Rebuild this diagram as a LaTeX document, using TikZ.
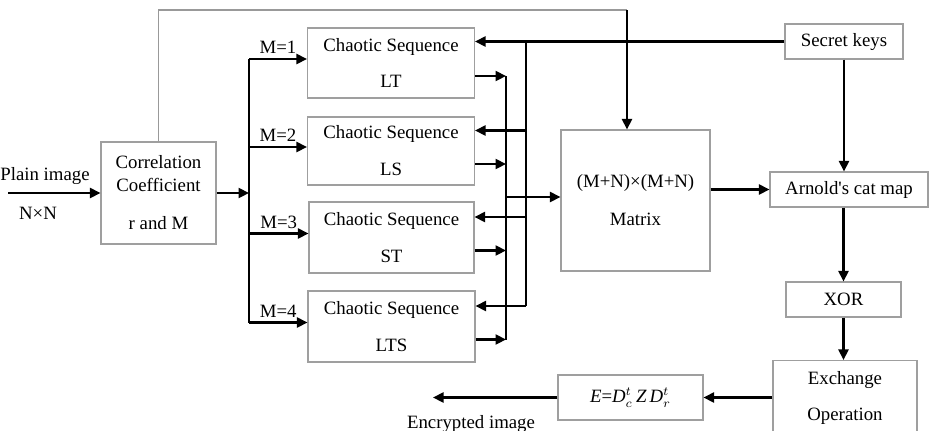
\documentclass[tikz,border=0pt]{standalone}
\usepackage{fontspec}
\setmainfont{Liberation Serif}
\usetikzlibrary{arrows.meta,positioning}

\begin{document}
\begin{tikzpicture}[x=0.2mm,y=-0.2mm,font=\fontsize{10.7}{12.8}\selectfont,
  >={Triangle[length=2.1mm,width=2mm]},
  caja/.style={draw=gray!75,line width=0.6pt,inner sep=0pt,align=center},
  flecha/.style={->,line width=1.3pt},
  bus/.style={line width=1.7pt},
  guia/.style={draw=gray!80,line width=0.7pt}]

\useasboundingbox (0,0) rectangle (929,430);

% Bloques
\node[caja,minimum width=2.3cm,minimum height=2.04cm] (corr) at (158.5,193)
    {Correlation\\[0.3pt]Coefficient\\[8.8pt]r and M};

\node[caja,minimum width=3.34cm,minimum height=1.4cm] (lt)  at (391,63)
    {Chaotic Sequence\\[8.2pt]LT};
\node[caja,minimum width=3.34cm,minimum height=1.36cm] (ls)  at (391,151)
    {Chaotic Sequence\\[8.2pt]LS};
\node[caja,minimum width=3.3cm,minimum height=1.42cm] (st)  at (391.5,237.5)
    {Chaotic Sequence\\[8.2pt]ST};
\node[caja,minimum width=3.34cm,minimum height=1.42cm] (lts) at (391.5,326.5)
    {Chaotic Sequence\\[8.2pt]LTS};

\node[caja,minimum width=2.98cm,minimum height=2.82cm] (mat) at (635.5,200.5)
    {(M+N)×(M+N)\\[8.8pt]Matrix};

\node[caja,minimum width=2.36cm,minimum height=0.7cm] (keys) at (844,41.5) {Secret keys};
\node[caja,minimum width=3.16cm,minimum height=0.7cm] (cat)  at (849,189.5)
    {Arnold\textquotesingle s cat map};
\node[caja,minimum width=2.3cm,minimum height=0.7cm]  (xor)  at (843.5,299.5) {XOR};
\node[caja,minimum width=2.88cm,minimum height=1.5cm] (exch) at (845,398)
    {Exchange\\[8.2pt]Operation};
\node[caja,minimum width=2.9cm,minimum height=0.9cm]  (eq)   at (630.5,397.5)
    {{\itshape E}={\itshape D}$^{t}_{c}$\,{\itshape Z}\,{\itshape D}$^{t}_{r}$};

% Puntos auxiliares
\coordinate (pin)  at (8,193);
\coordinate (tbus) at (249,0);
\coordinate (sbus) at (506,0);
\coordinate (kbus) at (526,0);
\coordinate (ret)  at (627,10);
\coordinate (pout) at (433,397.5);

\foreach \b in {lt,ls,st,lts} {
  \coordinate (\b-m)   at ([yshift=0.8mm]\b.west);
  \coordinate (\b-in)  at ([yshift=4.1mm]\b.east);
  \coordinate (\b-out) at ([yshift=-2.6mm]\b.east);
}

% Entrada
\draw[flecha] (pin) -- (corr.west);
\node (plain) at (45,176) {Plain image};
\node (nxn)   at (38,213) {N×N};

% Reparto por M
\draw[flecha] (corr.east) -- (corr.east -| tbus);
\draw[bus] (lt-m -| tbus) -- (lts-m -| tbus);
\draw[flecha] (lt-m -| tbus)  -- node[above=-1pt] (m1) {M=1} (lt-m);
\draw[flecha] (ls-m -| tbus)  -- node[above=-1pt] (m2) {M=2} (ls-m);
\draw[flecha] (st-m -| tbus)  -- node[above=-1pt] (m3) {M=3} (st-m);
\draw[flecha] (lts-m -| tbus) -- node[above=-1pt] (m4) {M=4} (lts-m);

% Claves
\draw[flecha] (keys.west) -- (keys.west -| lt.east);
\draw[bus] (keys.west -| kbus) -- (lts-in -| kbus);
\foreach \b in {ls,st,lts}
  \draw[flecha] (\b-in -| kbus) -- (\b-in);

% Salidas de las secuencias
\foreach \b in {lt,ls,st,lts}
  \draw[flecha] (\b-out) -- (\b-out -| sbus);
\draw[bus] (lt-out -| sbus) -- (lts-out -| sbus);
\draw[flecha] ([yshift=0.7mm]mat.west -| sbus) -- ([yshift=0.7mm]mat.west);

% Retorno superior
\draw[guia] (corr.north) |- (ret);
\draw[flecha] (ret) -- (ret |- mat.north);

% Cadena derecha
\draw[flecha] (cat.west -| mat.east) -- (cat.west);
\draw[flecha] (keys.south) -- (keys.south |- cat.north);
\draw[flecha] (xor.north |- cat.south) -- (xor.north);
\draw[flecha] (xor.south) -- (xor.south |- exch.north);
\draw[flecha] (eq.east -| exch.west) -- (eq.east);
\draw[flecha] (eq.west) -- (pout);
\node (enc) at (471,424) {Encrypted image};

\end{tikzpicture}
\end{document}
